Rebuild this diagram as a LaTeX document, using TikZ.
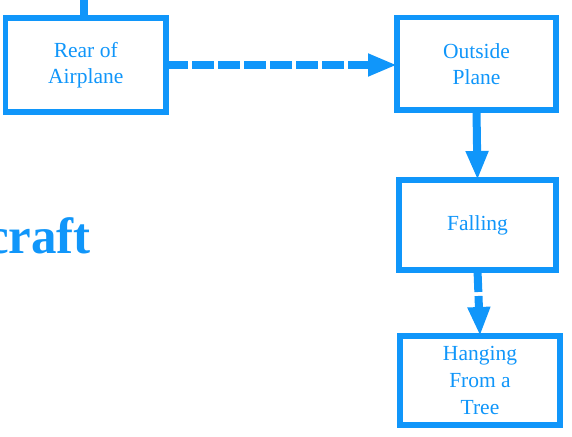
\documentclass[tikz,border=0pt]{standalone}
\usepackage{fontspec}
\setmainfont{Liberation Serif}
\usetikzlibrary{arrows.meta}
\definecolor{fblue}{RGB}{16,150,250}
\begin{document}
\begin{tikzpicture}[x=1pt,y=-1pt,
  stagebox/.style={draw=fblue,line width=5.5pt,text=fblue,align=center,
    inner sep=0pt,outer sep=0pt,font=\fontsize{21.5}{26}\selectfont},
  conn/.style={draw=fblue,line width=8pt,-{Triangle[length=29pt,width=21pt]}},
  dashconn/.style={conn,dash pattern=on 22pt off 4pt}]
\useasboundingbox (0,0) rectangle (572,436);
\clip (0,0) rectangle (572,436);
\fill[white] (0,0) rectangle (572,436);
\node[stagebox,minimum width=160.5pt,minimum height=94pt] (rear) at (85.75,65) {Rear of\\Airplane};
\node[stagebox,minimum width=159pt,minimum height=92.5pt] (outside) at (476.5,63.75) {Outside\\Plane};
\node[stagebox,minimum width=157pt,minimum height=90pt] (falling) at (477.5,225) {Falling};
\node[stagebox,minimum width=160pt,minimum height=89pt,font=\fontsize{21.5}{27}\selectfont] (tree) at (480,380.5) {Hanging\\From a\\Tree};
\node[text=fblue,anchor=base east,inner sep=0pt,font=\fontsize{51}{60}\selectfont\bfseries] (craft) at (91,253) {craft};
\coordinate (top) at (84,-2);
\draw[draw=fblue,line width=8pt] (top) -- (top |- rear.north);
\draw[dashconn] (rear.east) -- (rear.east -| outside.west);
\draw[conn] (outside.south) -- (falling.north);
\draw[dashconn] (falling.south) -- (tree.north);
\end{tikzpicture}
\end{document}
